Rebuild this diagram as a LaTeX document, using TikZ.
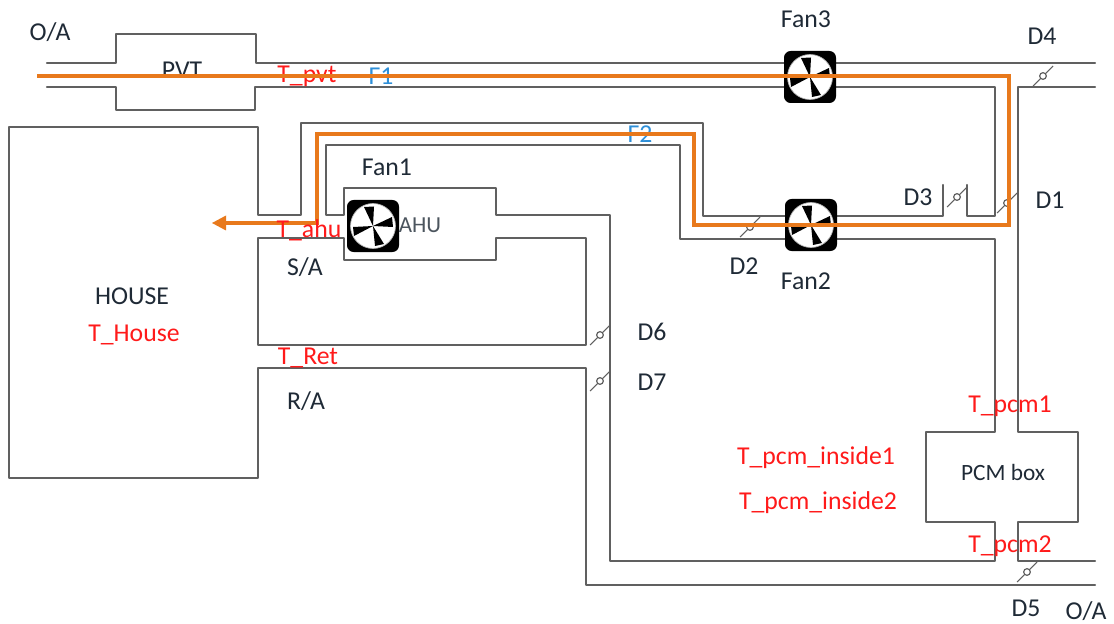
\documentclass[tikz,border=0pt]{standalone}
\usepackage{fontspec}
\setmainfont{Carlito}
\definecolor{duct}{HTML}{606060}
\definecolor{flow}{HTML}{E8791C}
\definecolor{lbl}{HTML}{1F2A36}
\definecolor{redlbl}{HTML}{FF1A1A}
\definecolor{bluelbl}{HTML}{2E8FD8}
\tikzset{
  duct/.style={draw=duct,line width=1.6pt,line join=round,line cap=round},
  flowline/.style={draw=flow,line width=2.5pt,line join=miter},
  damper/.style={draw=duct,line width=0.8pt},
  dampdisc/.style={circle,draw=duct,fill=white,line width=0.9pt,minimum size=5pt,inner sep=0pt},
  blk/.style={font=\fontsize{19.3}{22}\selectfont,text=lbl,inner sep=0pt,anchor=center},
  red/.style={font=\fontsize{19.3}{22}\selectfont,text=redlbl,inner sep=0pt,anchor=center},
  blu/.style={font=\fontsize{19.3}{22}\selectfont,text=bluelbl,inner sep=0pt,anchor=center},
  pics/fanicon/.style={code={
    \fill[black,rounded corners=5pt] (-26,-26) rectangle (26,26);
    \fill[white,draw=gray!60,line width=0.5pt] (0,0) circle[radius=22.5];
    \fill[black] (0,0) -- (-9,-19) -- (1,-19.5) -- cycle;
    \fill[black] (0,0) -- (19,-9) -- (20,1) -- cycle;
    \fill[black] (0,0) -- (11,18) -- (2,20) -- cycle;
    \fill[black] (0,0) -- (-20,1) -- (-19,10) -- cycle;
  }}
}
\begin{document}
\begin{tikzpicture}[x=0.75pt,y=-0.75pt]
\useasboundingbox (0,0) rectangle (1114,624);
% ducts
\draw[duct] (47,63) -- (116,63) -- (116,34) -- (256,34) -- (256,63) -- (1095,63);
\draw[duct] (47,87) -- (116,87) -- (116,110) -- (255,110) -- (255,87) -- (995,87) -- (995,216) -- (967,216) -- (967,185);
\draw[duct] (943,185) -- (943,216) -- (703,216) -- (703,123) -- (301,123) -- (301,215) -- (258,215) -- (258,127) -- (9,127) -- (9,478) -- (258,478) -- (258,368) -- (586,368) -- (586,585) -- (1095,585);
\draw[duct] (326,215) -- (326,145) -- (680,145) -- (680,239) -- (995,239) -- (995,432) -- (926,432) -- (926,522) -- (995,522) -- (995,561) -- (610,561) -- (610,215) -- (496,215) -- (496,188) -- (344,188) -- (344,215) -- cycle;
\draw[duct] (258,238) -- (344,238) -- (344,260) -- (496,260) -- (496,238) -- (586,238) -- (586,345) -- (258,345) -- cycle;
\draw[duct] (1095,87) -- (1018,87) -- (1018,432) -- (1078,432) -- (1078,522) -- (1018,522) -- (1018,561) -- (1095,561);
% dampers
\foreach \n/\x/\y in {d4/1043/76,d1/1007/203,d3/957/197,d2/750/227,d6/600/335,d7/600/381,d5/1027/572}{
  \draw[damper] (\x-10,\y+10) -- (\x+10,\y-10);
  \node[dampdisc] (\n) at (\x,\y) {};
}
% labels beneath the flow lines
\node[blk] (pvt) at (182,70) {PVT};
\node[red] (tpvt) at (307,76) {T\_pvt};
\node[blu] (f1) at (381,76) {F1};
\node[blu] (f2) at (640,134) {F2};
% fans
\pic at (810,77) {fanicon};
\pic at (811,225) {fanicon};
\pic at (373,226) {fanicon};
% flow
\coordinate (fa) at (37,76);
\coordinate (fb) at (1009,76);
\coordinate (fc) at (1009,225);
\coordinate (fd) at (694,225);
\coordinate (fe) at (694,134);
\coordinate (ff) at (317,134);
\coordinate (fg) at (317,223);
\coordinate (fh) at (226,223);
\coordinate (fi) at (212,223);
\draw[flowline] (fa) -- (fb) -- (fc) -- (fd) -- (fe) -- (ff) -- (fg) -- (fh);
\fill[flow] (fi) -- (226,215.5) -- (226,230.5) -- cycle;
% labels
\node[blk] (oa1) at (50,32) {O/A};
\node[blk] (fan3) at (806,19) {Fan3};
\node[blk] (d4l) at (1042,36) {D4};
\node[blk] (fan1) at (387,167) {Fan1};
\node[blk,font=\fontsize{17.2}{20}\selectfont,text=lbl!80] (ahu) at (420,225) {AHU};
\node[blk] (d3l) at (918,197) {D3};
\node[blk] (d1l) at (1050,200) {D1};
\node[blk] (d2l) at (744,266) {D2};
\node[blk] (fan2) at (806,281) {Fan2};
\node[blk] (sa) at (305,267) {S/A};
\node[blk] (house) at (132,296) {HOUSE};
\node[red] (thouse) at (134,335) {T\_House};
\node[blk] (d6l) at (652,332) {D6};
\node[blk] (d7l) at (652,382) {D7};
\node[red] (tret) at (308,358) {T\_Ret};
\node[blk] (ra) at (306,401) {R/A};
\node[red] (tp1) at (1010,406.5) {T\_pcm1};
\node[red] (tpi1) at (816,457.5) {T\_pcm\_inside1};
\node[red] (tpi2) at (818,502.5) {T\_pcm\_inside2};
\node[blk,font=\fontsize{17.5}{20}\selectfont] (pcm) at (1003,472) {PCM box};
\node[red] (tp2) at (1010,546.5) {T\_pcm2};
\node[blk] (d5l) at (1026,608) {D5};
\node[blk] (oa2) at (1086,611) {O/A};
\node[red] (tahu) at (309,230) {T\_ahu};
\end{tikzpicture}
\end{document}
